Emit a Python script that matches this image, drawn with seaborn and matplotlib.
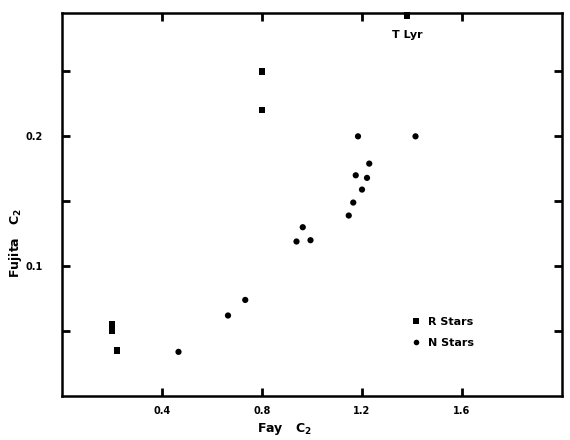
import pandas as pd
import seaborn as sns
import matplotlib
matplotlib.use('Agg')
import matplotlib.pyplot as plt

# R stars (squares); last one is T Lyr, off the top of the scale
r_fay = [0.20, 0.20, 0.22, 0.80, 0.80, 1.38]
r_fujita = [0.055, 0.050, 0.035, 0.250, 0.220, 0.293]

# N stars (circles)
n_fay = [0.466, 0.664, 0.733, 0.938, 0.963, 0.994, 1.147, 1.165, 1.175,
         1.184, 1.200, 1.220, 1.229, 1.414]
n_fujita = [0.034, 0.062, 0.074, 0.119, 0.130, 0.120, 0.139, 0.149, 0.170,
            0.200, 0.159, 0.168, 0.179, 0.200]

x_ticks = [0.4, 0.8, 1.2, 1.6]
x_ticklabels = ["0.4", "0.8", "1.2", "1.6"]
y_ticks = [0.05, 0.1, 0.15, 0.2, 0.25]
y_ticklabels = ["", "0.1", "", "0.2", ""]

df = pd.DataFrame({
    "fay": r_fay + n_fay,
    "fujita": r_fujita + n_fujita,
    "tipo": ["R Stars"] * len(r_fay) + ["N Stars"] * len(n_fay),
})

sns.set_style("ticks")
plt.rcParams['font.family'] = ['DejaVu Sans']
plt.rcParams['font.weight'] = 'bold'
plt.rcParams['text.color'] = 'black'
plt.rcParams['axes.labelcolor'] = 'black'
plt.rcParams['xtick.color'] = 'black'
plt.rcParams['ytick.color'] = 'black'
plt.rcParams['axes.edgecolor'] = 'black'

fig = plt.figure(figsize=(5.7, 4.4), dpi=100)
ax = fig.add_axes([62 / 570, 44 / 440, 500 / 570, 383 / 440])

sns.scatterplot(data=df, x="fay", y="fujita", style="tipo",
                markers={"R Stars": "s", "N Stars": "o"}, color="black",
                s=20, edgecolor="black", linewidth=0, ax=ax, clip_on=False)

ax.set_xlim(0, 2.0)
ax.set_ylim(0, 0.295)
ax.set_xticks(x_ticks)
ax.set_xticklabels(x_ticklabels)
ax.set_yticks(y_ticks)
ax.set_yticklabels(y_ticklabels)
ax.tick_params(direction="in", length=6, width=2, labelsize=7,
               top=True, right=True)
ax.tick_params(axis="x", pad=7)
ax.tick_params(axis="y", pad=14)
for sp in ax.spines.values():
    sp.set_visible(True)
    sp.set_linewidth(1.8)
    sp.set_color("black")

ax.set_xlabel("Fay   C$_2$", fontsize=9, fontweight="bold")
ax.set_ylabel("Fujita   C$_2$", fontsize=9, fontweight="bold")
ax.xaxis.set_label_coords(0.444, -0.065)
ax.yaxis.set_label_coords(-0.075, 0.40)

ax.text(1.38, 0.282, "T Lyr", fontsize=8, fontweight="bold",
        ha="center", va="top")

sns.move_legend(ax, "center left", bbox_to_anchor=(0.665, 0.166),
                title=None, frameon=False, fontsize=8,
                handletextpad=0.1, labelspacing=1.0, markerscale=0.9)

fig.savefig("out.png", dpi=100)
